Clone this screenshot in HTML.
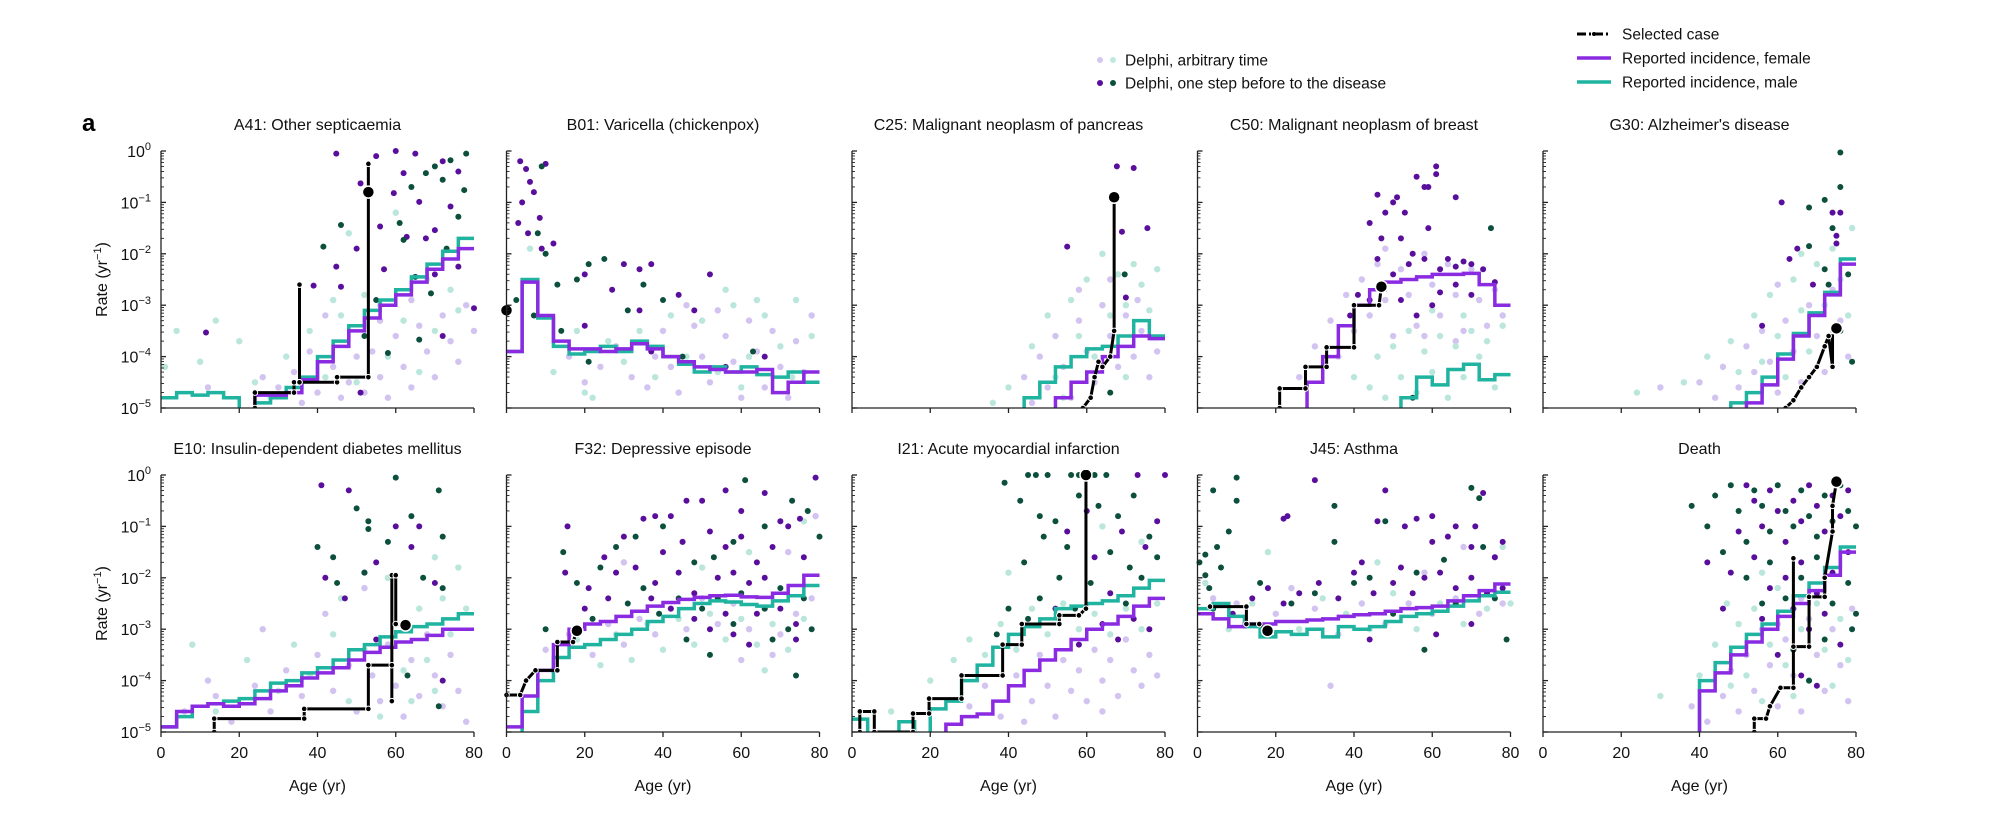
<!DOCTYPE html>
<html><head><meta charset="utf-8">
<style>
html,body{margin:0;padding:0;background:#fff;}
svg{display:block;font-family:"Liberation Sans",Arial,sans-serif;}
</style></head>
<body>
<svg id="chart" width="2000" height="822" viewBox="0 0 2000 822">
<g>
<circle cx="1100" cy="60" r="3" fill="#d5c6f0"/><circle cx="1113" cy="60" r="3" fill="#bfe8df"/>
<text x="1125" y="65.5" font-size="15.5" fill="#111">Delphi, arbitrary time</text>
<circle cx="1100" cy="83" r="3" fill="#5a0f9c"/><circle cx="1113" cy="83" r="3" fill="#0b4f3c"/>
<text x="1125" y="88.5" font-size="15.5" fill="#111">Delphi, one step before to the disease</text>
</g>
<g>
<line x1="1577" y1="34" x2="1611" y2="34" stroke="#000" stroke-width="3" stroke-dasharray="9,3,2,3"/>
<circle cx="1594" cy="34" r="2" fill="#000"/>
<text x="1622" y="39.5" font-size="15.5" fill="#111">Selected case</text>
<line x1="1577" y1="58" x2="1611" y2="58" stroke="#8a2be2" stroke-width="3.5"/>
<text x="1622" y="63.5" font-size="15.5" fill="#111">Reported incidence, female</text>
<line x1="1577" y1="82" x2="1611" y2="82" stroke="#1fb3a0" stroke-width="3.5"/>
<text x="1622" y="87.5" font-size="15.5" fill="#111">Reported incidence, male</text>
</g>
<text x="82" y="131" font-size="24" font-weight="bold" fill="#000">a</text>
</svg>
<script>
const titles = ["A41: Other septicaemia","B01: Varicella (chickenpox)","C25: Malignant neoplasm of pancreas","C50: Malignant neoplasm of breast","G30: Alzheimer's disease","E10: Insulin-dependent diabetes mellitus","F32: Depressive episode","I21: Acute myocardial infarction","J45: Asthma","Death"];
const xTicks = [0,20,40,60,80];
const yTickExps = [0,-1,-2,-3,-4,-5];
// log10 rates per 4-year age bin (0-4, 4-8, ..., 76-80)
const femaleRates = [
[-5,-5,-5,-5,-5,-5,-4.75,-4.75,-4.7,-4.45,-4.1,-3.8,-3.5,-3.25,-3.0,-2.8,-2.55,-2.3,-2.1,-1.9],
[-3.9,-2.55,-3.2,-3.7,-3.85,-3.85,-3.9,-3.85,-3.75,-3.85,-4.0,-4.1,-4.2,-4.25,-4.3,-4.3,-4.25,-4.7,-4.5,-4.3],
[-5,-5,-5,-5,-5,-5,-5,-5,-5,-5,-5,-5,-5,-4.8,-4.5,-4.3,-4.0,-3.8,-3.6,-3.65],
[-5,-5,-5,-5,-5,-5,-5,-4.5,-4.0,-3.4,-3.0,-2.7,-2.55,-2.5,-2.45,-2.4,-2.4,-2.38,-2.6,-3.0],
[-5,-5,-5,-5,-5,-5,-5,-5,-5,-5,-5,-5,-5,-4.9,-4.55,-4.05,-3.6,-3.2,-2.8,-2.2],
[-4.9,-4.6,-4.5,-4.45,-4.5,-4.45,-4.35,-4.2,-4.1,-3.95,-3.85,-3.75,-3.6,-3.45,-3.35,-3.25,-3.2,-3.12,-3.0,-3.0],
[-4.9,-4.3,-3.8,-3.3,-3.0,-2.9,-2.85,-2.75,-2.65,-2.55,-2.48,-2.42,-2.38,-2.35,-2.34,-2.37,-2.38,-2.3,-2.15,-1.95],
[-5,-5,-5,-5,-5,-5,-4.85,-4.7,-4.65,-4.4,-4.1,-3.8,-3.6,-3.4,-3.2,-3.0,-2.9,-2.75,-2.55,-2.4],
[-2.7,-2.8,-2.95,-2.9,-2.9,-2.85,-2.85,-2.82,-2.8,-2.75,-2.72,-2.7,-2.65,-2.6,-2.58,-2.55,-2.45,-2.35,-2.25,-2.12],
[-5,-5,-5,-5,-5,-5,-5,-5,-5,-5,-4.2,-3.85,-3.5,-3.25,-3.0,-2.75,-2.5,-2.25,-1.95,-1.5]
];
const maleRates = [
[-4.8,-4.7,-4.75,-4.7,-4.8,-5,-4.9,-4.8,-4.6,-4.4,-4.0,-3.7,-3.4,-3.1,-2.9,-2.7,-2.45,-2.2,-1.95,-1.7],
[-3.9,-2.5,-3.25,-3.8,-3.95,-3.9,-3.8,-3.9,-3.7,-3.8,-4.0,-4.15,-4.3,-4.2,-4.3,-4.2,-4.35,-4.4,-4.3,-4.5],
[-5,-5,-5,-5,-5,-5,-5,-5,-5,-5,-5,-4.8,-4.5,-4.2,-4.0,-3.85,-3.8,-3.6,-3.3,-3.6],
[-5,-5,-5,-5,-5,-5,-5,-5,-5,-5,-5,-5,-5,-4.8,-4.4,-4.55,-4.25,-4.15,-4.45,-4.35],
[-5,-5,-5,-5,-5,-5,-5,-5,-5,-5,-5,-5,-4.9,-4.7,-4.4,-3.95,-3.55,-3.15,-2.75,-2.1],
[-4.9,-4.7,-4.5,-4.45,-4.4,-4.35,-4.2,-4.05,-4.0,-3.85,-3.75,-3.6,-3.4,-3.3,-3.15,-3.05,-2.95,-2.9,-2.8,-2.7],
[-5,-4.6,-4.0,-3.55,-3.35,-3.3,-3.2,-3.1,-3.0,-2.85,-2.75,-2.6,-2.5,-2.45,-2.47,-2.52,-2.55,-2.45,-2.35,-2.15],
[-4.75,-5,-5,-4.8,-5,-4.55,-4.4,-4.0,-3.7,-3.35,-3.1,-2.95,-2.8,-2.6,-2.55,-2.5,-2.45,-2.35,-2.2,-2.05],
[-2.6,-2.5,-2.75,-2.95,-3.15,-3.05,-3.1,-3.0,-3.15,-2.95,-3.0,-2.95,-2.85,-2.75,-2.7,-2.65,-2.55,-2.45,-2.35,-2.28],
[-5,-5,-5,-5,-5,-5,-5,-5,-5,-5,-4.0,-3.65,-3.35,-3.1,-2.9,-2.65,-2.35,-2.1,-1.8,-1.4]
];
const selectedPath = [
[[24,-5],[24,-4.7],[34,-4.7],[34,-4.5],[35.4,-4.5],[35.4,-2.6],[35.4,-4.5],[45,-4.5],[45,-4.4],[53,-4.4],[53,-0.25],[53,-0.8]],
[[0,-3.1]],
[[59,-5],[61,-4.8],[62,-4.4],[63,-4.1],[64,-4.2],[66,-4.0],[67,-3.5],[67,-0.9]],
[[21,-5],[21,-4.62],[27.6,-4.62],[27.6,-4.2],[33,-4.2],[33,-3.82],[40,-3.82],[40,-3.0],[46.4,-3.0],[47,-2.64]],
[[62,-5],[64,-4.85],[66,-4.6],[68,-4.4],[70,-4.2],[72,-3.8],[73,-3.6],[74,-4.2],[74,-3.5],[75,-3.45]],
[[13.6,-5],[13.6,-4.74],[36.6,-4.74],[36.6,-4.55],[53,-4.55],[53,-3.7],[59,-3.7],[59,-4.4],[59,-1.95],[60,-1.95],[60,-2.9],[62.5,-2.92]],
[[0,-4.28],[3.5,-4.28],[5,-4.0],[7.4,-3.8],[13,-3.8],[13,-3.25],[17,-3.25],[18,-3.03]],
[[2,-5],[2,-4.6],[5.7,-4.6],[5.7,-5],[15.6,-5],[15.6,-4.64],[19.7,-4.64],[19.7,-4.35],[28,-4.35],[28,-3.9],[38.5,-3.9],[38.5,-3.3],[43.4,-3.3],[43.4,-2.9],[53,-2.9],[53,-2.73],[58,-2.73],[59.8,-2.6],[59.8,0]],
[[3.2,-2.56],[12.5,-2.56],[12.5,-2.9],[15.8,-2.9],[17.9,-3.03]],
[[54,-5],[54,-4.74],[57,-4.74],[58,-4.5],[60.7,-4.14],[64,-4.14],[64,-1.62],[64,-3.34],[68,-3.34],[68,-2.37],[72,-2.37],[72,-2.0],[74,-1.1],[74,-0.6],[75,-0.13]]
];
const darkPurple = [
[[44.8,-0.05],[11.5,-3.53],[39,-2.62],[44.8,-2.25],[46,-2.64],[51,-0.63],[59.5,-0.82],[62,-0.43],[66,-0.99],[67.7,-1.7],[70,-1.54],[56,-1.47],[62.8,-1.67],[74,-1.08],[76,-0.4],[80,-3.06],[51,-4.7],[72,-3.6],[76,-2.25],[55,-0.1],[60,0],[65,-0.05],[72,-0.2],[50,-1.9],[57,-2.3],[70,-2.4]],
[[3.5,-0.2],[5,-0.35],[6,-0.6],[4,-1.0],[7,-0.8],[8.5,-1.3],[5.5,-1.6],[9,-1.9],[3,-1.4],[10,-0.25],[12,-1.8],[20,-2.4],[27,-2.7],[30,-2.2],[34,-2.3],[37,-2.2],[34,-3.1],[37,-3.9],[44,-2.8],[48,-3.1],[52,-2.4],[56,-4.2],[66,-4.0],[20,-3.4]],
[[67.7,-0.3],[72,-0.33],[69,-1.57],[75.5,-1.5],[55,-1.86],[70,-2.85]],
[[46,-0.85],[48,-1.2],[44,-1.4],[50,-1.0],[51,-0.9],[47,-1.7],[52,-1.7],[53,-1.2],[56,-0.5],[58,-0.7],[59,-0.7],[61,-0.45],[61,-0.3],[66,-0.9],[59,-1.5],[55,-2.0],[41,-2.8],[46,-2.1],[50,-2.4],[54,-2.2],[58,-2.1],[62,-2.3],[66,-2.25],[70,-2.2],[73,-2.3],[56,-3.2],[60,-3.0],[66,-2.6],[70,-2.8],[76,-2.55],[39,-3.2],[44,-2.9],[64,-2.1],[68,-2.15],[52,-2.9],[62,-2.75]],
[[61,-1.0],[76,-1.2],[74,-1.2],[63,-2.1],[65,-1.9],[69,-2.6],[75,-1.8],[75,-1.65],[56,-3.4]],
[[41,-0.2],[48,-0.3],[66,-1.0],[42,-2.0],[47,-2.4],[52,-1.9],[55,-1.7],[64,-1.4],[60,-1.0],[70,-2.1],[72,-4.0],[55,-3.2]],
[[15.6,-1.0],[15,-1.9],[25,-1.6],[21,-2.2],[30,-1.2],[35,-0.85],[38,-0.8],[42,-0.8],[46,-0.5],[50,-0.5],[56,-0.3],[60,-0.7],[66,-0.35],[70,-0.9],[75,-0.85],[79,-0.05],[40,-1.5],[45,-1.3],[52,-1.1],[56,-1.4],[60,-1.2],[64,-1.7],[68,-1.4],[72,-1.0],[76,-1.6],[28,-1.9],[33,-1.8],[38,-2.1],[44,-1.9],[48,-2.3],[54,-2.0],[58,-1.9],[62,-2.1],[66,-2.0],[70,-2.6],[74,-2.9],[52,-3.0],[58,-3.1],[64,-2.7],[20,-2.6],[26,-2.4],[37,-2.4],[42,-2.6],[48,-2.8],[56,-2.7],[62,-3.3],[74,-3.2]],
[[60,-0.7],[55,-1.1],[62,-1.6],[66,-2.3],[69,-1.1],[72,-2.8],[75,-1.4],[78,-0.9],[52,-2.6],[64,-2.9],[68,-3.2],[76,-3.0],[73,0],[80,0],[58,-3.3]],
[[30,-0.1],[48,-0.3],[23,-0.8],[22,-0.85],[46,-0.9],[56,-0.85],[60,-0.8],[53,-1.0],[66,-1.0],[71,-1.0],[73,-0.35],[42,-1.7],[52,-1.8],[60,-1.3],[64,-1.2],[70,-1.4],[76,-1.6],[78,-1.3],[31,-2.1],[36,-2.4],[40,-1.9],[45,-2.3],[50,-2.1],[55,-2.3],[58,-2.0],[62,-1.9],[66,-2.2],[70,-2.0],[74,-2.3],[78,-2.2],[14,-2.4],[18,-2.2],[22,-2.5],[26,-2.3],[9,-2.7],[61,-3.1],[70,-2.9],[44,-3.2]],
[[42,-1.7],[46,-2.6],[50,-1.1],[52,-0.2],[54,-0.5],[56,-1.0],[58,-0.3],[60,-0.7],[62,-1.3],[64,-0.5],[66,-0.9],[68,-0.2],[70,-0.6],[72,-1.1],[74,-0.4],[76,-0.8],[78,-0.3],[48,-1.9],[54,-1.6],[58,-2.2],[62,-2.0],[66,-1.7],[70,-2.3],[74,-1.9],[78,-1.5],[56,-2.8],[64,-2.6],[68,-3.0],[72,-2.7],[76,-3.3],[60,-3.5],[66,-3.9],[70,-4.1]]
];
const darkGreen = [
[[41.5,-1.86],[46,-1.44],[61,-1.4],[64,-0.7],[67.7,-0.43],[72,-0.56],[74,-0.18],[77.5,-0.76],[65,-2.45],[69,-2.77],[58,-3.93],[66,-3.67],[55,-2.9],[76,-1.28],[62,-1.73],[70,-0.3],[52,-3.6],[73,-1.9],[78,-0.05]],
[[9,-0.3],[8,-1.6],[10,-2.0],[2.5,-2.9],[7,-3.2],[13,-2.6],[14,-3.5],[21,-2.2],[31,-3.1],[35,-2.6],[21,-4.1],[63,-3.9],[45,-4.0],[40,-2.9],[25,-2.1],[18,-2.5]],
[[69.7,-2.4],[66,-4.7]],
[[75,-1.5],[55,-4.8]],
[[68,-1.1],[72,-0.95],[76,-0.7],[76,-0.03],[74,-1.5],[68,-1.85],[72,-2.3],[73,-2.6],[76,-3.5],[78,-2.4],[79,-4.1]],
[[60,-0.05],[71,-0.3],[50,-0.65],[53,-0.9],[53,-1.05],[40,-1.4],[44,-1.6],[58,-1.3],[64,-0.8],[72,-1.2],[52,-1.9],[67,-2.0],[72,-2.2],[45,-2.1],[71,-4.5],[63,-3.9]],
[[14.5,-1.5],[10,-3.0],[18,-2.1],[24,-1.8],[28,-1.4],[33,-1.2],[40,-1.0],[48,-1.7],[53,-1.6],[58,-1.3],[61,-0.1],[66,-1.0],[73,-0.5],[77,-0.7],[80,-1.2],[31,-2.5],[35,-2.2],[39,-2.7],[44,-2.4],[50,-2.6],[54,-2.4],[60,-2.3],[66,-2.6],[70,-2.2],[76,-2.4],[46,-3.2],[52,-3.5],[58,-2.9],[72,-3.0],[68,-3.2],[78,-3.0],[74,-3.9],[22,-2.8]],
[[39,-0.15],[45,0],[47,0],[50,0],[56,0],[58,0],[60,0],[62,0],[65,0],[43,-0.5],[48,-0.8],[44,-1.7],[49,-1.2],[52,-0.9],[55,-1.4],[58,-0.4],[63,-0.6],[68,-0.8],[72,-0.4],[76,-1.2],[66,-1.5],[71,-1.8],[48,-2.4],[53,-2.0],[40,-2.6],[61,-2.1],[70,-2.5],[74,-2.0],[78,-1.6],[45,-2.8],[57,-2.6],[37,-3.1]],
[[10,-0.05],[10,-0.5],[4,-0.3],[8,-1.1],[5,-1.4],[2,-1.55],[0.5,-1.7],[2,-1.95],[3,-2.2],[4,-2.6],[6,-1.8],[35,-0.6],[35,-1.3],[48,-0.9],[70,-0.25],[72,-0.45],[73,-1.4],[63,-1.65],[56,-1.9],[44,-2.0],[24,-2.5],[30,-2.3],[50,-2.7],[66,-2.5],[76,-2.4],[58,-3.4],[79,-3.2],[40,-2.1],[16,-2.1]],
[[38,-0.6],[42,-1.0],[44,-0.4],[48,-0.2],[50,-0.7],[52,-1.3],[54,-0.3],[56,-0.6],[58,-1.1],[60,-0.2],[62,-0.7],[64,-1.0],[66,-0.3],[68,-0.8],[70,-1.2],[72,-0.4],[74,-0.9],[76,-0.2],[78,-0.7],[80,-1.0],[46,-1.5],[52,-2.0],[58,-1.7],[62,-2.4],[66,-2.0],[70,-1.6],[74,-2.5],[78,-2.1],[56,-2.5],[64,-3.4],[72,-3.2],[79,-3.0],[68,-4.0],[80,-2.7]]
];
const lightPurple = [
[[30,-4.6],[34,-4.3],[38,-3.9],[40,-4.7],[44,-4.2],[46,-4.8],[48,-4.5],[50,-4.0],[52,-4.7],[54,-3.9],[56,-4.4],[58,-4.8],[60,-3.6],[62,-4.2],[64,-4.6],[66,-3.4],[68,-3.9],[70,-4.4],[72,-3.2],[74,-3.7],[76,-4.1],[78,-3.0],[42,-3.2],[36,-4.9],[26,-4.4],[56,-3.3],[64,-2.9],[12,-4.6],[80,-3.5]],
[[16,-4.0],[20,-4.5],[24,-4.2],[28,-3.8],[32,-4.4],[36,-4.6],[40,-3.5],[42,-4.2],[44,-4.7],[48,-3.4],[50,-4.0],[52,-4.5],[56,-3.6],[58,-4.1],[60,-4.8],[62,-3.3],[64,-3.9],[66,-4.6],[68,-3.5],[70,-4.2],[72,-4.8],[74,-3.7],[76,-4.3],[78,-3.2],[54,-3.1],[46,-3.0],[38,-4.0]],
[[44,-4.4],[48,-4.0],[50,-4.6],[52,-3.6],[54,-4.2],[56,-4.8],[58,-3.3],[60,-3.9],[62,-4.5],[64,-3.0],[66,-3.6],[68,-4.2],[70,-3.2],[72,-4.0],[74,-3.5],[76,-4.4],[78,-3.9],[46,-4.9],[58,-2.7],[66,-2.5],[73,-2.9]],
[[26,-4.4],[30,-3.8],[34,-3.3],[36,-4.0],[38,-2.8],[40,-3.5],[42,-2.5],[44,-3.2],[46,-2.2],[48,-2.9],[50,-3.6],[52,-2.3],[54,-2.8],[56,-3.4],[58,-2.0],[60,-2.6],[62,-3.2],[64,-2.2],[66,-2.8],[68,-3.5],[70,-2.3],[72,-2.9],[74,-3.4],[76,-2.7],[78,-3.2],[48,-1.9],[58,-3.6],[66,-3.7]],
[[40,-4.5],[44,-4.8],[46,-4.2],[50,-4.6],[52,-3.8],[54,-4.3],[56,-3.5],[58,-4.1],[60,-4.7],[62,-3.3],[64,-3.9],[66,-4.5],[68,-3.0],[70,-3.6],[72,-4.3],[74,-2.7],[76,-3.3],[78,-4.0],[30,-4.6],[60,-2.6]],
[[6,-4.6],[14,-4.3],[18,-4.8],[24,-4.1],[28,-4.6],[32,-3.8],[36,-4.3],[40,-3.5],[44,-4.2],[48,-3.7],[50,-4.6],[54,-3.9],[56,-4.4],[58,-3.3],[60,-4.1],[62,-4.7],[64,-3.6],[66,-4.3],[68,-3.1],[70,-3.9],[72,-4.5],[74,-3.5],[76,-4.2],[78,-4.8],[26,-3.0],[42,-2.7],[52,-2.2],[12,-4.0]],
[[10,-3.4],[16,-3.1],[22,-3.5],[26,-2.9],[30,-3.3],[34,-2.8],[38,-3.1],[42,-2.6],[46,-3.0],[50,-2.4],[54,-2.9],[58,-2.5],[62,-3.0],[66,-2.6],[70,-3.1],[74,-2.7],[78,-2.4],[60,-3.6],[68,-3.5],[30,-1.7],[45,-1.3],[72,-1.5],[79,-0.8]],
[[30,-4.5],[34,-4.1],[38,-4.7],[42,-3.9],[46,-4.4],[48,-3.5],[50,-4.1],[52,-4.7],[54,-3.6],[56,-4.2],[58,-3.8],[60,-4.4],[62,-3.4],[64,-4.0],[66,-3.6],[68,-4.3],[70,-3.2],[72,-3.8],[74,-4.1],[76,-3.5],[78,-3.9],[44,-4.8],[64,-4.6]],
[[4,-2.4],[10,-2.5],[20,-2.7],[30,-2.6],[36,-3.1],[42,-2.5],[48,-2.9],[54,-2.5],[60,-2.7],[66,-2.4],[72,-2.7],[78,-2.5],[58,-1.9],[68,-1.4],[76,-1.6],[34,-4.1],[24,-2.2]],
[[38,-4.5],[42,-4.8],[46,-4.3],[48,-3.8],[50,-4.6],[52,-3.5],[54,-4.2],[56,-3.0],[58,-3.7],[60,-4.5],[62,-3.2],[64,-3.9],[66,-4.6],[68,-2.8],[70,-3.5],[72,-4.2],[74,-3.0],[76,-3.7],[78,-4.4],[79,-2.6],[66,-2.4],[60,-2.9]]
];
const lightGreen = [
[[1,-4.2],[4,-3.5],[10,-4.1],[14,-3.3],[20,-3.7],[24,-4.5],[32,-4.0],[38,-3.5],[42,-4.4],[46,-3.2],[50,-4.5],[52,-2.8],[56,-3.0],[58,-4.0],[62,-3.3],[66,-4.3],[68,-2.5],[70,-3.5],[74,-2.7],[76,-3.1],[48,-1.6],[44,-2.9],[60,-1.2],[28,-4.8]],
[[6,-1.9],[12,-4.3],[18,-3.5],[22,-4.8],[26,-3.7],[30,-4.1],[34,-3.5],[38,-4.4],[42,-3.2],[46,-4.0],[50,-3.3],[54,-4.3],[58,-3.0],[62,-4.0],[66,-3.2],[70,-3.8],[74,-2.9],[78,-3.6],[20,-4.7],[60,-4.6],[73,-4.4],[64,-2.9],[56,-2.7]],
[[40,-4.6],[46,-3.8],[50,-3.2],[52,-4.4],[56,-2.9],[58,-3.6],[60,-2.5],[62,-4.0],[64,-2.0],[66,-3.2],[68,-2.4],[70,-3.0],[72,-2.2],[74,-2.6],[76,-3.1],[78,-2.3],[54,-4.8],[36,-4.9],[70,-4.4]],
[[44,-4.6],[46,-4.0],[48,-4.8],[50,-3.8],[52,-4.4],[54,-3.5],[56,-4.7],[58,-3.9],[60,-4.3],[62,-3.6],[64,-4.8],[66,-3.8],[68,-4.4],[70,-3.5],[72,-4.0],[74,-3.7],[76,-4.6],[78,-3.4],[60,-3.1],[68,-3.2],[40,-4.4]],
[[24,-4.7],[36,-4.5],[42,-4.0],[48,-3.7],[50,-4.3],[54,-3.2],[56,-4.1],[58,-2.8],[60,-3.6],[62,-4.4],[64,-2.5],[66,-3.1],[68,-3.9],[70,-2.2],[72,-3.0],[74,-1.9],[76,-2.5],[78,-3.2],[79,-1.5],[66,-2.0]],
[[8,-3.3],[14,-4.6],[22,-3.6],[30,-4.2],[34,-3.3],[38,-3.9],[44,-3.1],[48,-4.4],[52,-3.4],[56,-4.7],[60,-2.9],[62,-3.8],[64,-4.4],[66,-2.6],[68,-3.6],[70,-4.2],[72,-2.4],[74,-3.1],[76,-1.8],[78,-2.6],[46,-2.4],[58,-2.0],[70,-1.6]],
[[12,-3.8],[18,-3.2],[24,-3.7],[28,-3.1],[32,-3.6],[36,-2.9],[40,-3.4],[44,-2.8],[48,-3.3],[52,-2.7],[56,-3.2],[60,-2.8],[64,-3.3],[68,-2.9],[72,-3.4],[76,-2.8],[66,-3.8],[50,-1.8],[62,-1.5],[76,-0.9]],
[[10,-4.6],[20,-4.0],[26,-3.6],[30,-3.2],[34,-3.5],[38,-2.9],[42,-3.4],[46,-2.6],[50,-3.1],[54,-2.5],[58,-3.0],[62,-2.7],[66,-3.1],[70,-2.6],[74,-3.0],[78,-2.5],[40,-1.9],[64,-1.0],[74,-1.3]],
[[2,-2.1],[8,-3.0],[14,-2.5],[26,-3.0],[32,-2.4],[38,-2.7],[44,-3.0],[50,-2.3],[56,-3.0],[62,-2.5],[68,-2.9],[74,-2.6],[80,-2.5],[18,-1.5],[46,-1.7],[78,-1.4]],
[[30,-4.3],[40,-3.9],[44,-3.3],[48,-4.1],[50,-2.9],[52,-3.9],[54,-2.6],[56,-4.4],[58,-3.3],[60,-2.2],[62,-3.7],[64,-4.3],[66,-3.0],[68,-4.0],[70,-2.5],[72,-3.4],[74,-4.1],[76,-2.8],[78,-3.6],[47,-2.5],[56,-1.9]]
];

const NS = "http://www.w3.org/2000/svg";
const svg = document.getElementById("chart");
const PW = 313, PH = 257, BIN = 4;
function mk(tag, attrs, parent){ const e=document.createElementNS(NS,tag); for(const k in attrs) e.setAttribute(k,attrs[k]); parent.appendChild(e); return e; }
const defs = mk("defs",{},svg);

for (let p=0;p<10;p++){
  const col=p%5, row=Math.floor(p/5);
  const x0 = 161 + col*345.5, y0 = 151 + row*324;
  const xs = a => x0 + a/80*PW;
  const ys = l => y0 + (-l)/5*PH;
  const g = mk("g",{},svg);
  
  
  const cp = mk("clipPath",{id:"cp"+p},defs);
  mk("rect",{x:x0-6,y:y0-5,width:PW+10,height:PH+5},cp);
  const t = mk("text",{x:x0+PW/2,y:y0-21,"text-anchor":"middle","font-size":"16",fill:"#111"},g);
  t.textContent = titles[p];
  
  
  const plot = mk("g",{"clip-path":"url(#cp"+p+")"},g);
  
  
  const dots = (arr, color, name, r) => {
    arr[p].forEach(d => {
      const c = mk("circle",{cx:xs(d[0]),cy:ys(Math.min(d[1],0)),r:r,fill:color},plot);
      
      
    });
  };
  dots(lightPurple,"#d3c3f0","light-purple-dot",3.2);
  dots(lightGreen,"#bae6dc","light-green-dot",3.2);
  dots(darkPurple,"#5a0f9c","dark-purple-dot",3);
  dots(darkGreen,"#0b4f3c","dark-green-dot",3);
  const stepPath = vals => {
    let d="";
    vals.forEach((v,i)=>{
      const vv = v<=-5 ? -5.3 : v;
      if(i===0) d+="M"+xs(0)+","+ys(vv);
      else d+="V"+ys(vv);
      d+="H"+xs((i+1)*BIN);
    });
    return d;
  };
  const mp = mk("path",{d:stepPath(maleRates[p]),fill:"none",stroke:"#1fb3a0","stroke-width":"3.5"},plot);
  
  
  const fp = mk("path",{d:stepPath(femaleRates[p]),fill:"none",stroke:"#8a2be2","stroke-width":"3.5"},plot);
  
  
  const sp = selectedPath[p];
  if (sp.length>1){
    const sl = mk("path",{d:"M"+sp.map(q=>xs(q[0])+","+ys(q[1])).join("L"),fill:"none",stroke:"#000","stroke-width":"3"},plot);
    
    
  }
  sp.forEach((q,i)=>{
    const last = i===sp.length-1;
    const c = mk("circle",{cx:xs(q[0]),cy:ys(q[1]),r:last?6:2.8,fill:"#000",stroke:"#fff","stroke-width":last?1.5:1},plot);
    
    
  });
  const ax = mk("g",{stroke:"#222","stroke-width":"1.3",fill:"none"},g);
  
  
  mk("line",{x1:x0,y1:y0,x2:x0,y2:y0+PH},ax);
  mk("line",{x1:x0,y1:y0+PH,x2:x0+PW,y2:y0+PH},ax);
  yTickExps.forEach(e=>{
    mk("line",{x1:x0,y1:ys(e),x2:x0+5,y2:ys(e)},ax);
    if(e>-5) for(let m=2;m<10;m++){ const yy=ys(e-1+Math.log10(m)); mk("line",{x1:x0,y1:yy,x2:x0+3,y2:yy,"stroke-width":"0.9"},ax); }
    if(col===0){
      const lt = mk("text",{x:x0-10,y:ys(e)+6,"text-anchor":"end","font-size":"16",fill:"#111",stroke:"none"},g);
      
      
      const t1 = mk("tspan",{},lt); t1.textContent="10";
      const t2 = mk("tspan",{dy:"-7","font-size":"11"},lt); t2.textContent = e===0 ? "0" : "\u2212"+(-e);
    }
  });
  xTicks.forEach(a=>{
    mk("line",{x1:xs(a),y1:y0+PH,x2:xs(a),y2:y0+PH+5},ax);
    if(row===1){
      const xt = mk("text",{x:xs(a),y:y0+PH+26,"text-anchor":"middle","font-size":"16",fill:"#111"},g);
      xt.textContent = a;
      
      
    }
  });
  if(row===1){
    const xl = mk("text",{x:x0+PW/2,y:y0+PH+59,"text-anchor":"middle","font-size":"16",fill:"#111"},g);
    xl.textContent = "Age (yr)";
    
    
  }
  if(col===0){
    const yl = mk("text",{x:0,y:0,"text-anchor":"middle","font-size":"16",fill:"#111",transform:"translate(107,"+(y0+PH/2)+") rotate(-90)"},g);
    
    
    const a1=mk("tspan",{},yl); a1.textContent="Rate (yr";
    const a2=mk("tspan",{dy:"-6","font-size":"11"},yl); a2.textContent="\u22121";
    const a3=mk("tspan",{dy:"6"},yl); a3.textContent=")";
  }
}
</script>
</body></html>
